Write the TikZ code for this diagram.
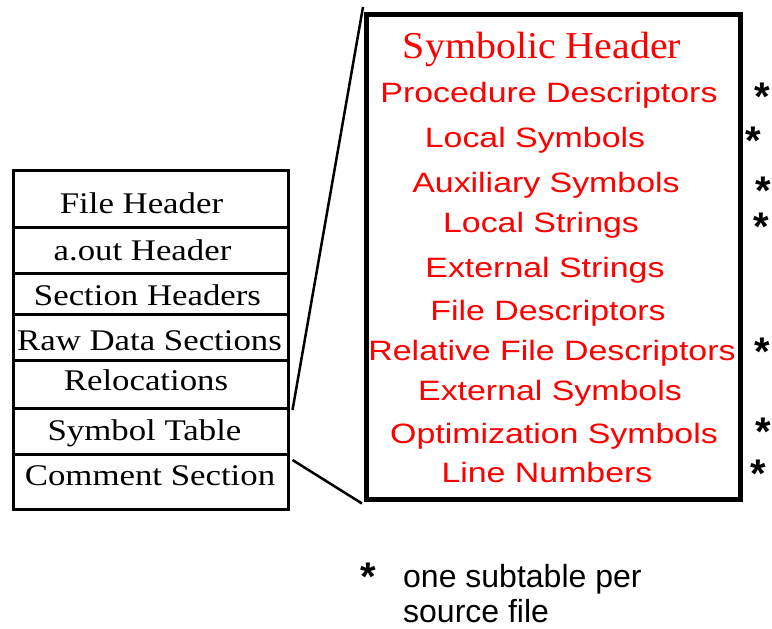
\documentclass[tikz,border=0pt]{standalone}
\usepackage{fontspec}
\newfontfamily\lserif[FakeStretch=1.16]{Liberation Serif}
\newfontfamily\hserif[FakeStretch=1.05]{Liberation Serif}
\newfontfamily\rsans[FakeStretch=1.21]{Liberation Sans}
\newfontfamily\nsans{Liberation Sans}
\newcommand{\starglyph}{\smash{\raisebox{-17.5pt}{*}}}
\begin{document}
\begin{tikzpicture}[x=1pt,y=-1pt,
  row/.style={draw, line width=2.5pt, minimum width=275pt, inner sep=0pt, anchor=north west},
  ltext/.style={anchor=base, inner sep=0pt, font=\lserif\fontsize{30}{30}\selectfont},
  htext/.style={anchor=base, inner sep=0pt, text=red, font=\hserif\fontsize{38}{38}\selectfont},
  rtext/.style={anchor=base, inner sep=0pt, text=red, font=\rsans\fontsize{28}{28}\selectfont},
  starmark/.style={anchor=center, inner sep=0pt, text height=7pt, text depth=7pt, font=\nsans\bfseries\fontsize{40}{40}\selectfont},
  note/.style={anchor=base west, inner sep=0pt, font=\nsans\fontsize{32}{32}\selectfont},
  conn/.style={line width=2.5pt}]
\useasboundingbox (0,0) rectangle (772,629);
% left table
\node[row, minimum height=57pt] (r1) at (12,169) {};
\node[row, minimum height=46pt] (r2) at (12,226) {};
\node[row, minimum height=41pt] (r3) at (12,272) {};
\node[row, minimum height=46pt] (r4) at (12,313) {};
\node[row, minimum height=48pt] (r5) at (12,359) {};
\node[row, minimum height=46pt] (r6) at (12,407) {};
\node[row, minimum height=55pt] (r7) at (12,453) {};
\node[ltext] (t1) at (141.5,213) {File Header};
\node[ltext] (t2) at (142.5,260) {a.out Header};
\node[ltext] (t3) at (147.5,305) {Section Headers};
\node[ltext] (t4) at (149.5,350) {Raw Data Sections};
\node[ltext] (t5) at (146,390) {Relocations};
\node[ltext] (t6) at (144.5,440) {Symbol Table};
\node[ltext] (t7) at (150,485) {Comment Section};
% right box
\node[draw, line width=4.5pt, minimum width=374pt, minimum height=485pt, anchor=north west, inner sep=0pt] (sym) at (364,12) {};
\node[htext] (h0) at (542,58) {Symbolic Header};
\node[rtext] (h1) at (549,102) {Procedure Descriptors};
\node[rtext] (h2) at (535,147) {Local Symbols};
\node[rtext] (h3) at (546,192) {Auxiliary Symbols};
\node[rtext] (h4) at (541,232) {Local Strings};
\node[rtext] (h5) at (545,277) {External Strings};
\node[rtext] (h6) at (548,320) {File Descriptors};
\node[rtext] (h7) at (552,360) {Relative File Descriptors};
\node[rtext] (h8) at (550,400) {External Symbols};
\node[rtext] (h9) at (554,443) {Optimization Symbols};
\node[rtext] (h10) at (547,482) {Line Numbers};
% stars
\node[starmark] (s1) at (762,93) {\starglyph};
\node[starmark] (s2) at (753,137) {\starglyph};
\node[starmark] (s3) at (763,187) {\starglyph};
\node[starmark] (s4) at (761,223) {\starglyph};
\node[starmark] (s5) at (762,348) {\starglyph};
\node[starmark] (s6) at (763,428) {\starglyph};
\node[starmark] (s7) at (758,470) {\starglyph};
% connectors
\draw[conn] ([xshift=3pt,yshift=-3pt]r6.north east) -- ([xshift=-1pt,yshift=5pt]sym.north west);
\draw[conn] ([xshift=3pt,yshift=-7pt]r7.north east) -- ([xshift=-2pt,yshift=-2pt]sym.south west);
% note
\node[starmark] (s8) at (368,573) {\starglyph};
\node[note] (n1) at (403,587) {one subtable per};
\node[note] (n2) at (403,622) {source file};
\end{tikzpicture}
\end{document}
